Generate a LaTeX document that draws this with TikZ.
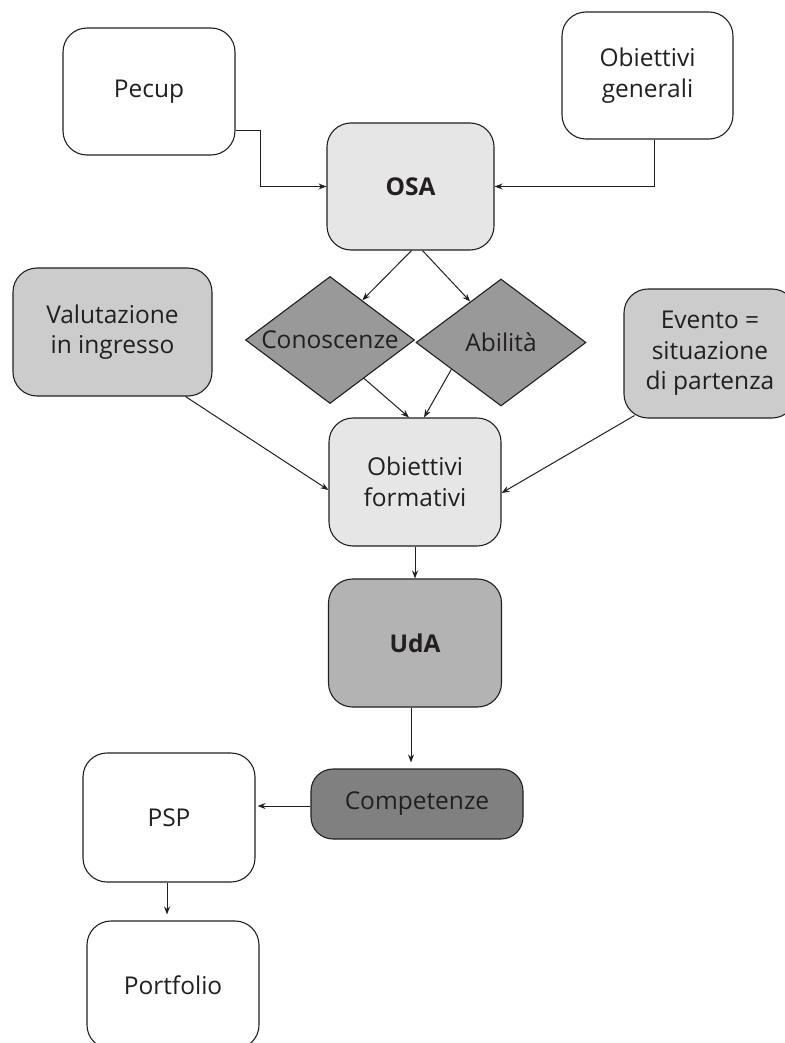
\documentclass[tikz,border=0pt]{standalone}
\usepackage{fontspec}
\setmainfont{Open Sans}
\usetikzlibrary{shapes.geometric,arrows.meta,calc}
\definecolor{ink}{HTML}{231F20}
\definecolor{gA}{HTML}{E6E6E6}
\definecolor{gB}{HTML}{CCCCCC}
\definecolor{gC}{HTML}{999999}
\definecolor{gD}{HTML}{B3B3B3}
\definecolor{gE}{HTML}{808080}
\tikzset{
  box/.style={rectangle, rounded corners=24pt, draw=ink, line width=1.1pt, text=ink,
    align=center, inner sep=0pt, minimum width=172pt, minimum height=128pt, fill=white},
  dia/.style={diamond, draw=ink, line width=1.1pt, fill=gC, inner sep=0pt,
    minimum width=169pt, minimum height=127pt},
  dlabel/.style={text=ink},
  arr/.style={draw=ink, line width=1pt, -{Stealth[length=8pt,width=6pt]}},
}
\begin{document}
\begin{tikzpicture}[x=1pt,y=-1pt,font=\fontsize{24.5}{30.5}\selectfont]
\useasboundingbox (0,0) rectangle (784,1043);
\node[box, minimum height=127pt] (pecup) at (149,91.5) {Pecup};
\node[box, minimum width=171pt, minimum height=127pt] (og) at (647.5,75.5) {Obiettivi\\generali};
\node[box, fill=gA, minimum width=167pt, minimum height=127pt] (osa) at (410.5,186.5) {\bfseries OSA};
\node[box, fill=gB, minimum width=199pt] (val) at (112.5,332) {Valutazione\\in ingresso};
\node[dia, label={[dlabel]center:Conoscenze}] (con) at (330,340) {};
\node[dia, minimum width=170pt, label={[dlabel]center:Abilità}] (abi) at (501,342.5) {};
\node[box, fill=gB, minimum height=129pt] (ev) at (710,353.5) {Evento =\\situazione\\di partenza};
\node[box, fill=gA] (of) at (415,482) {Obiettivi\\formativi};
\node[box, fill=gD, minimum width=173pt] (uda) at (415,643) {\bfseries UdA};
\node[box, fill=gE, rounded corners=22pt, minimum width=212pt, minimum height=70pt] (comp) at (417,804) {Competenze};
\node[box, minimum height=129pt] (psp) at (169,817.5) {PSP};
\node[box] (port) at (173,985) {Portfolio};

\draw[arr] ([yshift=-39pt]pecup.east) -- ++(25,0) |- (osa.west);
\draw[arr] ([xshift=7pt]og.south) |- (osa.east);
\draw[arr] ([xshift=1pt]osa.south) -- ($(con.north)!0.38!(con.east)$);
\draw[arr] ([xshift=12pt]osa.south) -- ($(abi.north)!0.36!(abi.west)$);
\draw[arr] ($(con.east)!0.6!(con.south)$) -- ([xshift=-6pt]of.north);
\draw[arr] ($(abi.west)!0.42!(abi.south)$) -- ([xshift=9pt]of.north);
\draw[arr] ([xshift=73pt]val.south) -- ([yshift=-8pt]of.west);
\draw[arr] ([xshift=11pt,yshift=3pt]ev.south west) -- ([yshift=-11pt]of.east);
\draw[arr] (of.south) -- (uda.north);
\draw[arr, shorten >=6pt] ([xshift=-4pt]uda.south) -- ([xshift=-4pt]uda.south |- comp.north);
\draw[arr, shorten >=2pt] ([yshift=-2pt]comp.west) -- ([yshift=-2pt]comp.west -| psp.east);
\draw[arr, shorten >=6pt] ([xshift=-2pt]psp.south) -- ([xshift=-2pt]psp.south |- port.north);
\end{tikzpicture}
\end{document}
